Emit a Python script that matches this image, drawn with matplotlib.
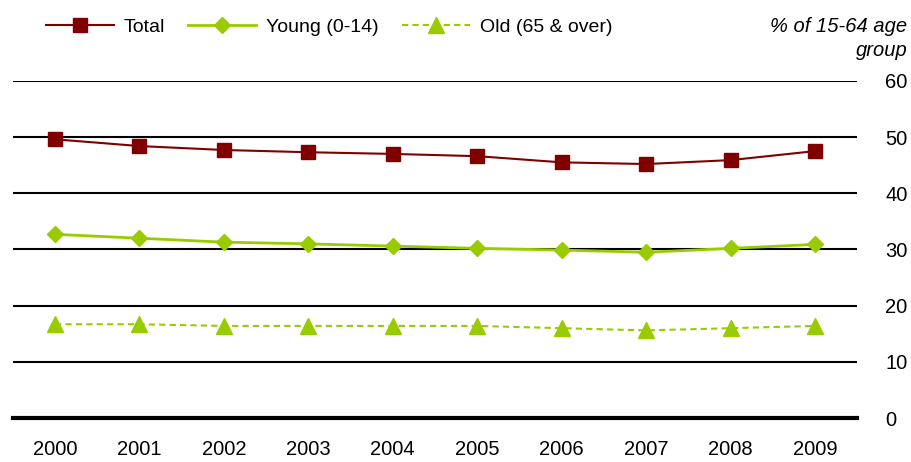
import matplotlib.pyplot as plt

plt.rcParams['font.family'] = ['Liberation Sans', 'DejaVu Sans']

# Dados (% do grupo 15-64)
anos = ["2000", "2001", "2002", "2003", "2004", "2005", "2006", "2007", "2008", "2009"]
total = [49.6, 48.4, 47.7, 47.3, 47.0, 46.6, 45.5, 45.2, 45.9, 47.5]
jovens = [32.7, 32.0, 31.3, 31.0, 30.6, 30.2, 29.9, 29.5, 30.2, 30.9]
idosos = [16.7, 16.7, 16.4, 16.4, 16.4, 16.4, 16.0, 15.6, 16.0, 16.4]

vermelho = '#800000'
verde = '#99CC00'

fig = plt.figure(figsize=(9.12, 4.62), dpi=100)
ax = fig.add_axes([0.014, 0.095, 0.926, 0.73])

x = range(len(anos))
ax.plot(x, total, color=vermelho, lw=1.5, marker='s', ms=10, label='Total', zorder=3)
ax.plot(x, jovens, color=verde, lw=2, marker='D', ms=8, label='Young (0-14)', zorder=3)
ax.plot(x, idosos, color=verde, lw=1.5, ls=(0, (3, 2)), marker='^', ms=11,
        label='Old (65 & over)', zorder=3)

ax.set_xlim(-0.5, len(anos) - 0.5)
ax.set_ylim(0, 60)
ax.set_yticks(range(0, 61, 10))
ax.set_xticks(list(x))
ax.set_xticklabels(anos)
ax.yaxis.tick_right()
ax.tick_params(length=0, labelsize=14.5)
ax.tick_params(axis='x', pad=16)
ax.tick_params(axis='y', pad=20)
for s in ax.spines.values():
    s.set_visible(False)
for v in range(10, 61, 10):
    ax.axhline(v, color='black', lw=1.5, zorder=1)
ax.axhline(0, color='black', lw=3, zorder=1, clip_on=False)

ax.legend(loc='lower left', bbox_to_anchor=(0.03, 1.11), ncol=3, frameon=False,
          fontsize=14, handlelength=3.5, columnspacing=1.2, handletextpad=0.5,
          borderaxespad=0)

fig.text(0.995, 0.963, '% of 15-64 age\ngroup', ha='right', va='top',
         fontsize=14.5, style='italic', linespacing=1.3)

fig.savefig('out.png', dpi=100)
